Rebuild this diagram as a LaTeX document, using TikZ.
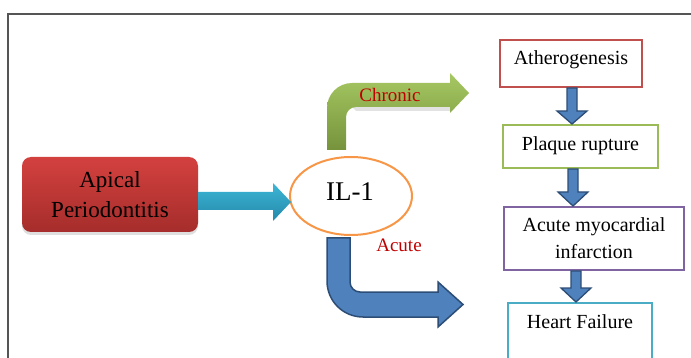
\documentclass[tikz,border=0pt]{standalone}
\usepackage{fontspec}
\setmainfont{Liberation Serif}
\usetikzlibrary{shapes.geometric,shadows,calc}
\definecolor{framegray}{HTML}{555555}
\definecolor{redtop}{HTML}{D3413F}
\definecolor{redbot}{HTML}{A52D2B}
\definecolor{cyantop}{HTML}{3DB6D6}
\definecolor{cyanbot}{HTML}{2489AA}
\definecolor{greentop}{HTML}{A6C862}
\definecolor{greenbot}{HTML}{76933C}
\definecolor{bluefill}{HTML}{4F81BD}
\definecolor{blueedge}{HTML}{2C4D75}
\definecolor{ilorange}{HTML}{F79646}
\definecolor{boxred}{HTML}{C0504D}
\definecolor{boxgreen}{HTML}{9BBB59}
\definecolor{boxpurple}{HTML}{8064A2}
\definecolor{boxcyan}{HTML}{4BACC6}
\definecolor{labelred}{HTML}{C00000}
\tikzset{
  txt/.style={font=\fontsize{20}{23}\selectfont, align=center, inner sep=0pt},
  flowbox/.style={rectangle, line width=2pt, fill=white, inner sep=0pt, font=\fontsize{20}{25}\selectfont, align=center},
  downarrow/.style={fill=bluefill, draw=blueedge, line width=1.3pt, line join=miter},
}
\begin{document}
\begin{tikzpicture}[x=1pt,y=-1pt]
\useasboundingbox (0,0) rectangle (691,358);
% frame
\draw[framegray, line width=2pt] (8,358) -- (8,14) -- (691,14);

% nodes
\node[rectangle, rounded corners=9pt, minimum width=176pt, minimum height=75pt,
      top color=redtop, bottom color=redbot, draw=none,
      drop shadow={shadow xshift=0pt, shadow yshift=-3pt, opacity=0.25},
      font=\fontsize{23}{30}\selectfont, align=center, inner sep=0pt]
      (apical) at (110,194.5) {Apical\\Periodontitis};
\node[ellipse, draw=ilorange, line width=2pt, minimum width=122pt, minimum height=78pt, inner sep=0pt]
      (il1) at (351,196) {};
\node[font=\fontsize{27}{30}\selectfont, inner sep=0pt] (iltext) at (350,192) {IL-1};

\node[flowbox, draw=boxred, minimum width=142pt, minimum height=47pt] (athero) at (571,63.5) {};
\node[txt] (atherotext) at (571,60) {Atherogenesis};
\node[flowbox, draw=boxgreen, minimum width=155pt, minimum height=43pt] (plaque) at (580.5,146.5) {};
\node[txt] (plaquetext) at (580.5,146) {Plaque rupture};
\node[flowbox, draw=boxpurple, minimum width=180pt, minimum height=63pt] (ami) at (594,238.5) {};
\node[txt] (amitext) at (594,227) {Acute myocardial};
\node[txt] (amitext2) at (594,252) {infarction};
\node[flowbox, draw=boxcyan, minimum width=144pt, minimum height=90pt] (hf) at (580,348) {};
\node[txt] (hftext) at (580,322) {Heart Failure};

% cyan arrow apical -> il1
\path let \p1=(apical.east), \p2=(il1.west) in
  [top color=cyantop, bottom color=cyanbot, draw=none]
  (\x1,192) -- (273,192) -- (273,183) -- (\x2+2pt,202) -- (273,221) -- (273,210) -- (\x1,210) -- cycle;

% green bent arrow (chronic)
\fill[gray!45, opacity=0.5] (352,107) -- (450,107) -- (450,111) -- (356,111) -- cycle;
\path[top color=greentop, bottom color=greenbot, draw=none]
  (327,150) -- (327,108) .. controls (327,94.2) and (338.2,83) .. (352,83)
  -- (450,83) -- (450,73) -- (469,93) -- (450,113) -- (450,107)
  -- (356,107) .. controls (350.5,107) and (346,111.5) .. (346,117)
  -- (346,150) -- cycle;
\node[font=\fontsize{19}{22}\selectfont, text=labelred, inner sep=0pt] (chronic) at (390,95) {Chronic};

% blue bent arrow (acute)
\path[fill=bluefill, draw=blueedge, line width=1.5pt, line join=miter]
  (327,238) -- (350,238) -- (350,282) .. controls (350,287.5) and (354.5,292) .. (360,292)
  -- (438,292) -- (438,282) -- (463,304.5) -- (438,327) -- (438,317)
  -- (363,317) .. controls (343,317) and (327,301) .. (327,281) -- cycle;
\node[font=\fontsize{19}{22}\selectfont, text=labelred, inner sep=0pt] (acute) at (399,245) {Acute};

% down arrows between boxes (canvas y grows upward, so head base is tip + 13pt)
\path let \p1=(athero.south), \p2=(plaque.north) in
  [downarrow] (567,\y1) -- (577,\y1) -- (577,\y2+13pt) -- (587,\y2+13pt) -- (572,\y2)
  -- (557,\y2+13pt) -- (567,\y2+13pt) -- cycle;
\path let \p1=(plaque.south), \p2=(ami.north) in
  [downarrow] (568,\y1) -- (578,\y1) -- (578,\y2+14pt) -- (588,\y2+14pt) -- (573,\y2)
  -- (558,\y2+14pt) -- (568,\y2+14pt) -- cycle;
\path let \p1=(ami.south), \p2=(hf.north) in
  [downarrow] (571,\y1) -- (581,\y1) -- (581,\y2+14pt) -- (591,\y2+14pt) -- (576,\y2)
  -- (561,\y2+14pt) -- (571,\y2+14pt) -- cycle;
\end{tikzpicture}
\end{document}
